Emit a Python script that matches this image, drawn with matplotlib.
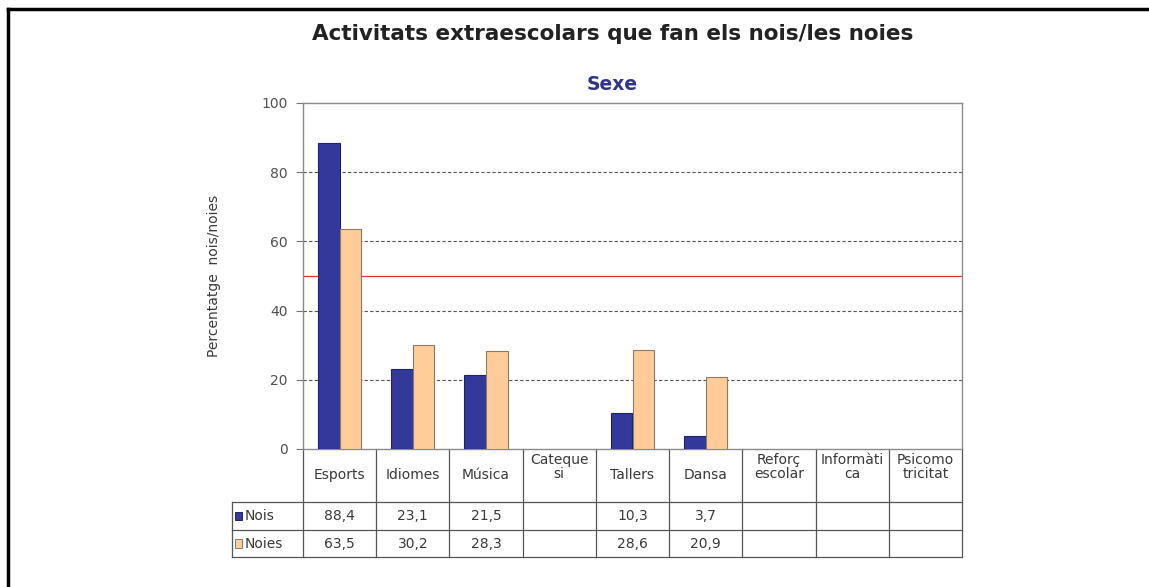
import numpy as np
import matplotlib
matplotlib.use("Agg")
import matplotlib.pyplot as plt
import matplotlib.transforms as mtransforms
from matplotlib.lines import Line2D
from matplotlib.patches import Rectangle

plt.rcParams['font.family'] = ['DejaVu Sans']

categories = ["Esports", "Idiomes", "Música", "Cateque\nsi", "Tallers", "Dansa",
              "Reforç\nescolar", "Informàti\nca", "Psicomo\ntricitat"]
nois = [88.4, 23.1, 21.5, np.nan, 10.3, 3.7, np.nan, np.nan, np.nan]
noies = [63.5, 30.2, 28.3, np.nan, 28.6, 20.9, np.nan, np.nan, np.nan]
series_names = ["Nois", "Noies"]
yticks = [0, 20, 40, 60, 80, 100]
ref_value = 50

blue = "#33399a"
peach = "#ffcc99"
txt = "#3a3a3a"

fig = plt.figure(figsize=(11.49, 5.87), dpi=100)
W, H = 1149, 587
ax = fig.add_axes([303 / W, 1 - 449 / H, (962 - 303) / W, (449 - 103) / H])

x = np.arange(len(categories))
bw = 0.295
ax.bar(x - bw / 2, nois, bw, color=blue, edgecolor="#1e2366", linewidth=0.8, zorder=3)
ax.bar(x + bw / 2, noies, bw, color=peach, edgecolor="#8a7a66", linewidth=0.8, zorder=3)

ax.set_xlim(-0.5, len(categories) - 0.5)
ax.set_ylim(0, 100)
ax.set_yticks(yticks)
ax.set_yticklabels([str(t) for t in yticks], color="#505050", fontsize=10)
ax.tick_params(axis="y", direction="out", length=5, color="#777777", pad=6)
ax.set_xticks([])
for t in yticks[1:-1]:
    ax.axhline(t, color="#555555", linestyle=(0, (3, 2)), linewidth=0.8, zorder=1)
ax.axhline(ref_value, color="#e03030", linewidth=0.9, zorder=2)
for s in ax.spines.values():
    s.set_color("#8a8a8a")
    s.set_linewidth(1.0)

ax.set_ylabel("Percentatge  nois/noies", fontsize=10, color=txt, labelpad=29)

# data table under the chart
trans = mtransforms.blended_transform_factory(ax.transData, ax.transAxes)
ph = 449 - 103
def yf(py):
    return (449 - py) / ph
x_left = -0.5 - (303 - 232) / (659 / len(categories))
row_tops = [449, 502, 530, 557]
line_kw = dict(color="#555555", linewidth=0.9, transform=trans, clip_on=False)
for b in np.arange(len(categories) + 1) - 0.5:
    ax.add_line(Line2D([b, b], [yf(449), yf(row_tops[-1])], **line_kw))
for py in row_tops[1:]:
    ax.add_line(Line2D([x_left, len(categories) - 0.5], [yf(py), yf(py)], **line_kw))
ax.add_line(Line2D([x_left, x_left], [yf(row_tops[1]), yf(row_tops[-1])], **line_kw))

for i, c in enumerate(categories):
    yc = 467 if "\n" in c else 475
    ax.text(i, yf(yc), c, transform=trans, ha="center", va="center", fontsize=10,
            color=txt, linespacing=1.05)

for r, (name, vals, col, ec) in enumerate(zip(series_names, [nois, noies], [blue, peach],
                                               ["#1e2366", "#777777"])):
    ymid = yf((row_tops[r + 1] + row_tops[r + 2]) / 2)
    ax.add_patch(Rectangle((x_left + 0.04, ymid - 0.013), 0.1, 0.026, transform=trans,
                           facecolor=col, edgecolor=ec, linewidth=0.7, clip_on=False))
    ax.text(x_left + 0.17, ymid, name, transform=trans, ha="left", va="center",
            fontsize=10, color=txt)
    for i, v in enumerate(vals):
        if not np.isnan(v):
            ax.text(i, ymid, f"{v:.1f}".replace(".", ","), transform=trans, ha="center",
                    va="center", fontsize=10, color=txt)

fig.text(613 / W, 1 - 34 / H, "Activitats extraescolars que fan els nois/les noies",
         ha="center", va="center", fontsize=15.5, fontweight="bold", color="#222222")
fig.text(612 / W, 1 - 84 / H, "Sexe", ha="center", va="center", fontsize=13.5,
         fontweight="bold", color="#333388")

# outer frame (top and left only)
fig.add_artist(Line2D([8 / W, 1], [1 - 9 / H, 1 - 9 / H], color="black", linewidth=2.5,
                      transform=fig.transFigure))
fig.add_artist(Line2D([8 / W, 8 / W], [0, 1 - 9 / H], color="black", linewidth=2.5,
                      transform=fig.transFigure))

fig.savefig("out.png", dpi=100)
